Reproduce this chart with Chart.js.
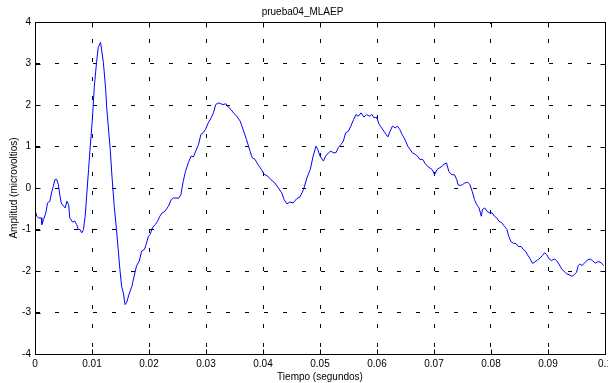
<!DOCTYPE html>
<html>
<head>
<meta charset="utf-8">
<script src="https://cdn.jsdelivr.net/npm/chart.js@4.4.0/dist/chart.umd.min.js"></script>
<style>
  html, body { margin: 0; padding: 0; background: #fff; overflow: hidden; }
  #wrap { width: 608px; height: 383px; overflow: hidden; }
</style>
</head>
<body>
<div id="wrap"><canvas id="myChart" width="640" height="383"></canvas></div>
<script>
// tiempo (s) y amplitud (microvoltios)
const tiempo = [
  0.0000, 0.0003, 0.0006, 0.0011, 0.0012, 0.0015, 0.0019, 0.0022, 0.0026, 0.0029,
  0.0032, 0.0035, 0.0038, 0.0041, 0.0043, 0.0046, 0.0050, 0.0053, 0.0056, 0.0059,
  0.0061, 0.0066, 0.0070, 0.0073, 0.0076, 0.0079, 0.0082, 0.0085, 0.0088, 0.0091,
  0.0094, 0.0097, 0.0101, 0.0104, 0.0108, 0.0111, 0.0115, 0.0120, 0.0124, 0.0126,
  0.0132, 0.0135, 0.0139, 0.0143, 0.0146, 0.0149, 0.0152, 0.0155, 0.0158, 0.0161,
  0.0165, 0.0170, 0.0174, 0.0178, 0.0183, 0.0187, 0.0192, 0.0195, 0.0199, 0.0202,
  0.0206, 0.0211, 0.0215, 0.0219, 0.0223, 0.0228, 0.0234, 0.0239, 0.0243, 0.0249,
  0.0252, 0.0256, 0.0260, 0.0264, 0.0269, 0.0274, 0.0278, 0.0282, 0.0287, 0.0291,
  0.0295, 0.0299, 0.0304, 0.0309, 0.0313, 0.0317, 0.0322, 0.0326, 0.0330, 0.0335,
  0.0339, 0.0344, 0.0348, 0.0354, 0.0360, 0.0365, 0.0371, 0.0377, 0.0381, 0.0386,
  0.0391, 0.0397, 0.0402, 0.0408, 0.0414, 0.0421, 0.0427, 0.0433, 0.0437, 0.0442,
  0.0447, 0.0453, 0.0459, 0.0465, 0.0471, 0.0477, 0.0483, 0.0488, 0.0493, 0.0496,
  0.0500, 0.0506, 0.0510, 0.0515, 0.0519, 0.0523, 0.0528, 0.0532, 0.0537, 0.0541,
  0.0545, 0.0550, 0.0554, 0.0559, 0.0563, 0.0567, 0.0572, 0.0577, 0.0582, 0.0587,
  0.0591, 0.0595, 0.0599, 0.0604, 0.0608, 0.0614, 0.0619, 0.0623, 0.0627, 0.0632,
  0.0636, 0.0640, 0.0644, 0.0649, 0.0654, 0.0658, 0.0662, 0.0667, 0.0671, 0.0675,
  0.0680, 0.0684, 0.0689, 0.0693, 0.0697, 0.0701, 0.0705, 0.0709, 0.0714, 0.0718,
  0.0722, 0.0726, 0.0731, 0.0736, 0.0740, 0.0742, 0.0746, 0.0750, 0.0754, 0.0759,
  0.0763, 0.0767, 0.0771, 0.0775, 0.0779, 0.0783, 0.0785, 0.0789, 0.0793, 0.0797,
  0.0802, 0.0806, 0.0810, 0.0814, 0.0819, 0.0824, 0.0828, 0.0831, 0.0835, 0.0839,
  0.0844, 0.0848, 0.0853, 0.0857, 0.0861, 0.0864, 0.0868, 0.0873, 0.0877, 0.0882,
  0.0886, 0.0890, 0.0894, 0.0898, 0.0902, 0.0906, 0.0911, 0.0915, 0.0919, 0.0924,
  0.0929, 0.0933, 0.0937, 0.0942, 0.0946, 0.0950, 0.0953, 0.0956, 0.0960, 0.0965,
  0.0970, 0.0974, 0.0978, 0.0983, 0.0987, 0.0991, 0.0995, 0.0998
];
const amplitud = [
  -0.52, -0.68, -0.72, -0.72, -0.88, -0.76, -0.60, -0.36, -0.32, -0.12,
  0.04, 0.20, 0.21, 0.08, -0.12, -0.36, -0.44, -0.48, -0.32, -0.40,
  -0.72, -0.82, -0.80, -0.88, -1.00, -1.00, -1.08, -1.00, -0.68, -0.12,
  0.45, 1.01, 1.73, 2.43, 3.03, 3.39, 3.51, 3.02, 2.38, 1.90,
  0.93, 0.29, -0.44, -1.00, -1.49, -1.97, -2.37, -2.53, -2.81, -2.75,
  -2.56, -2.37, -2.12, -1.88, -1.76, -1.52, -1.48, -1.36, -1.16, -1.12,
  -0.96, -0.88, -0.80, -0.68, -0.60, -0.56, -0.44, -0.28, -0.24, -0.24,
  -0.25, -0.16, 0.16, 0.40, 0.61, 0.77, 0.75, 0.89, 1.05, 1.29,
  1.33, 1.41, 1.57, 1.69, 1.81, 2.01, 2.05, 2.03, 2.01, 2.03,
  1.95, 1.89, 1.81, 1.73, 1.61, 1.41, 1.17, 0.90, 0.73, 0.69,
  0.57, 0.45, 0.33, 0.29, 0.20, 0.12, 0.00, -0.12, -0.28, -0.38,
  -0.34, -0.36, -0.26, -0.21, -0.04, 0.24, 0.45, 0.77, 1.01, 0.93,
  0.77, 0.65, 0.77, 0.85, 0.89, 0.85, 0.85, 0.97, 1.05, 1.13,
  1.33, 1.37, 1.49, 1.65, 1.77, 1.73, 1.81, 1.71, 1.77, 1.73,
  1.77, 1.69, 1.71, 1.53, 1.45, 1.33, 1.23, 1.37, 1.49, 1.45,
  1.49, 1.41, 1.29, 1.17, 1.01, 0.93, 0.85, 0.81, 0.77, 0.69,
  0.69, 0.60, 0.52, 0.48, 0.44, 0.32, 0.44, 0.48, 0.52, 0.58,
  0.60, 0.40, 0.32, 0.32, 0.20, 0.08, 0.06, 0.08, 0.12, 0.14,
  0.08, -0.08, -0.28, -0.40, -0.48, -0.68, -0.52, -0.48, -0.56, -0.60,
  -0.60, -0.68, -0.72, -0.80, -0.84, -0.93, -1.00, -1.16, -1.29, -1.33,
  -1.34, -1.41, -1.41, -1.49, -1.53, -1.61, -1.69, -1.82, -1.78, -1.73,
  -1.69, -1.63, -1.56, -1.61, -1.71, -1.75, -1.71, -1.75, -1.83, -1.95,
  -2.02, -2.07, -2.09, -2.13, -2.09, -2.03, -1.87, -1.83, -1.87, -1.79,
  -1.73, -1.71, -1.75, -1.81, -1.78, -1.78, -1.83, -1.87
];
const xTicks = [0, 0.01, 0.02, 0.03, 0.04, 0.05, 0.06, 0.07, 0.08, 0.09, 0.1];
const yTicks = [-4, -3, -2, -1, 0, 1, 2, 3, 4];

Chart.defaults.font.family = '"Liberation Sans", Arial, Helvetica, sans-serif';
Chart.defaults.font.size = 10;
Chart.defaults.color = "#000";

// marco negro y marcas hacia dentro, estilo matlab
const marco = {
  id: "marco",
  afterDraw(chart) {
    const c = chart.ctx, a = chart.chartArea;
    const sx = chart.scales.x, sy = chart.scales.y;
    const L = Math.round(a.left) + 0.5, R = Math.round(a.right) + 0.5;
    const T = Math.round(a.top) + 0.5, B = Math.round(a.bottom) + 0.5;
    c.save();
    c.strokeStyle = "#000";
    c.lineWidth = 1;
    c.setLineDash([]);
    c.strokeRect(L, T, R - L, B - T);
    c.beginPath();
    xTicks.forEach(v => {
      const px = Math.round(sx.getPixelForValue(v)) + 0.5;
      c.moveTo(px, B); c.lineTo(px, B - 5);
      c.moveTo(px, T); c.lineTo(px, T + 5);
    });
    yTicks.forEach(v => {
      const py = Math.round(sy.getPixelForValue(v)) + 0.5;
      c.moveTo(L, py); c.lineTo(L + 5, py);
      c.moveTo(R, py); c.lineTo(R - 5, py);
    });
    c.stroke();
    c.restore();
  }
};

let ctx = document.getElementById("myChart").getContext("2d");
let myChart = new Chart(ctx, {
  type: "line",
  data: {
    datasets: [{
      label: "prueba04_MLAEP",
      data: tiempo.map((t, i) => ({ x: t, y: amplitud[i] })),
      borderColor: "#0000ff",
      borderWidth: 1,
      pointRadius: 0,
      tension: 0,
      fill: false
    }]
  },
  options: {
    responsive: false,
    animation: false,
    devicePixelRatio: 1,
    layout: { padding: { top: 0, right: 35, bottom: 0, left: 0 } },
    plugins: {
      legend: { display: false },
      tooltip: { enabled: false },
      title: {
        display: true,
        text: "prueba04_MLAEP",
        font: { size: 10, weight: "normal" },
        color: "#000",
        padding: { top: 6, bottom: 4 }
      }
    },
    scales: {
      x: {
        type: "linear",
        min: 0,
        max: 0.1,
        afterBuildTicks: s => { s.ticks = xTicks.map(v => ({ value: v })); },
        afterFit: s => { s.height = 29; },
        ticks: {
          padding: 4,
          maxRotation: 0,
          autoSkip: false,
          callback: v => String(Number(v.toFixed(2)))
        },
        grid: { color: "#000", lineWidth: 1, drawTicks: false },
        border: { display: true, color: "#000", width: 1, dash: [4, 15], dashOffset: 2 },
        title: { display: true, text: "Tiempo (segundos)", padding: { top: 0, bottom: 0 } }
      },
      y: {
        type: "linear",
        min: -4,
        max: 4,
        afterBuildTicks: s => { s.ticks = yTicks.map(v => ({ value: v })); },
        afterFit: s => { s.width = 35; },
        ticks: { padding: 4 },
        grid: { color: "#000", lineWidth: 1, drawTicks: false },
        border: { display: true, color: "#000", width: 1, dash: [4, 15], dashOffset: 0 },
        title: { display: true, text: "Amplitud (microvoltios)", padding: { top: 8, bottom: 0 } }
      }
    }
  },
  plugins: [marco]
});
</script>
</body>
</html>
